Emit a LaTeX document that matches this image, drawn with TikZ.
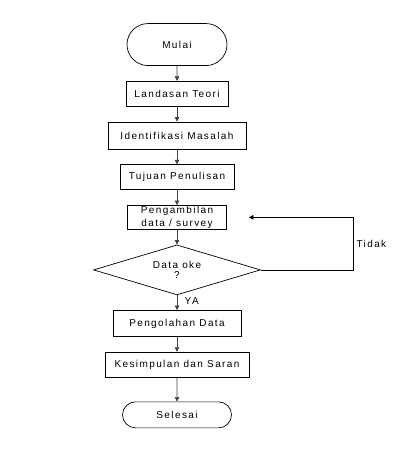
\documentclass[tikz,border=0pt]{standalone}
\usepackage{fontspec}
\setmainfont{Liberation Sans}[LetterSpace=14]
\usetikzlibrary{matrix,arrows.meta,shapes.geometric,shapes.misc}

\begin{document}
\begin{tikzpicture}[x=1pt,y=1pt,
  terminal/.style={draw, rounded rectangle, inner sep=0pt},
  proses/.style={draw, rectangle, inner sep=0pt},
  keputusan/.style={draw, diamond, aspect=3.34, inner sep=0pt, minimum width=167pt, minimum height=50pt},
  panah/.style={draw=black!75, line width=0.7pt, -{Triangle[length=4.5pt,width=4.5pt]}}]
\useasboundingbox (0,0) rectangle (410,-454);
\matrix (m) [matrix of nodes, row sep=15pt, anchor=north, inner sep=0pt,
  nodes={font=\fontsize{10}{10.5}\selectfont, line width=0.7pt}] at (177,-23)
{
  |[terminal, minimum width=100pt, minimum height=42pt]| Mulai \\
  |[proses, minimum width=102pt, minimum height=25pt]| Landasan Teori \\
  |[proses, minimum width=138pt, minimum height=27pt]| Identifikasi Masalah \\
  |[proses, minimum width=114pt, minimum height=25pt]| Tujuan Penulisan \\
  |[proses, minimum width=99pt, minimum height=24pt]| \shortstack{Pengambilan\\data / survey} \\
  |[keputusan]| \shortstack{Data oke\\?} \\
  |[proses, minimum width=128pt, minimum height=26pt]| Pengolahan Data \\
  |[proses, minimum width=144pt, minimum height=25pt]| Kesimpulan dan Saran \\[9pt]
  |[terminal, minimum width=109pt, minimum height=26pt]| Selesai \\
};
% alur utama
\draw[panah] (m-1-1) -- (m-2-1);
\draw[panah] (m-2-1) -- (m-3-1);
\draw[panah] (m-3-1) -- (m-4-1);
\draw[panah] (m-4-1) -- (m-5-1);
\draw[panah] (m-5-1) -- (m-6-1);
\draw[panah] (m-6-1) -- node[right, pos=0.4, xshift=4pt, font=\fontsize{10}{10.5}\selectfont] {YA} (m-7-1);
\draw[panah] (m-7-1) -- (m-8-1);
\draw[panah] (m-8-1) -- (m-9-1);
% kembali jika data belum oke
\path (m-5-1.east) ++(22,0) coordinate (balik) ++(104,0) coordinate (sudut);
\draw[panah, draw=black] (m-6-1.east) -| node[right, pos=0.75, font=\fontsize{10}{10.5}\selectfont] {Tidak} (sudut) -- (balik);
\end{tikzpicture}
\end{document}
